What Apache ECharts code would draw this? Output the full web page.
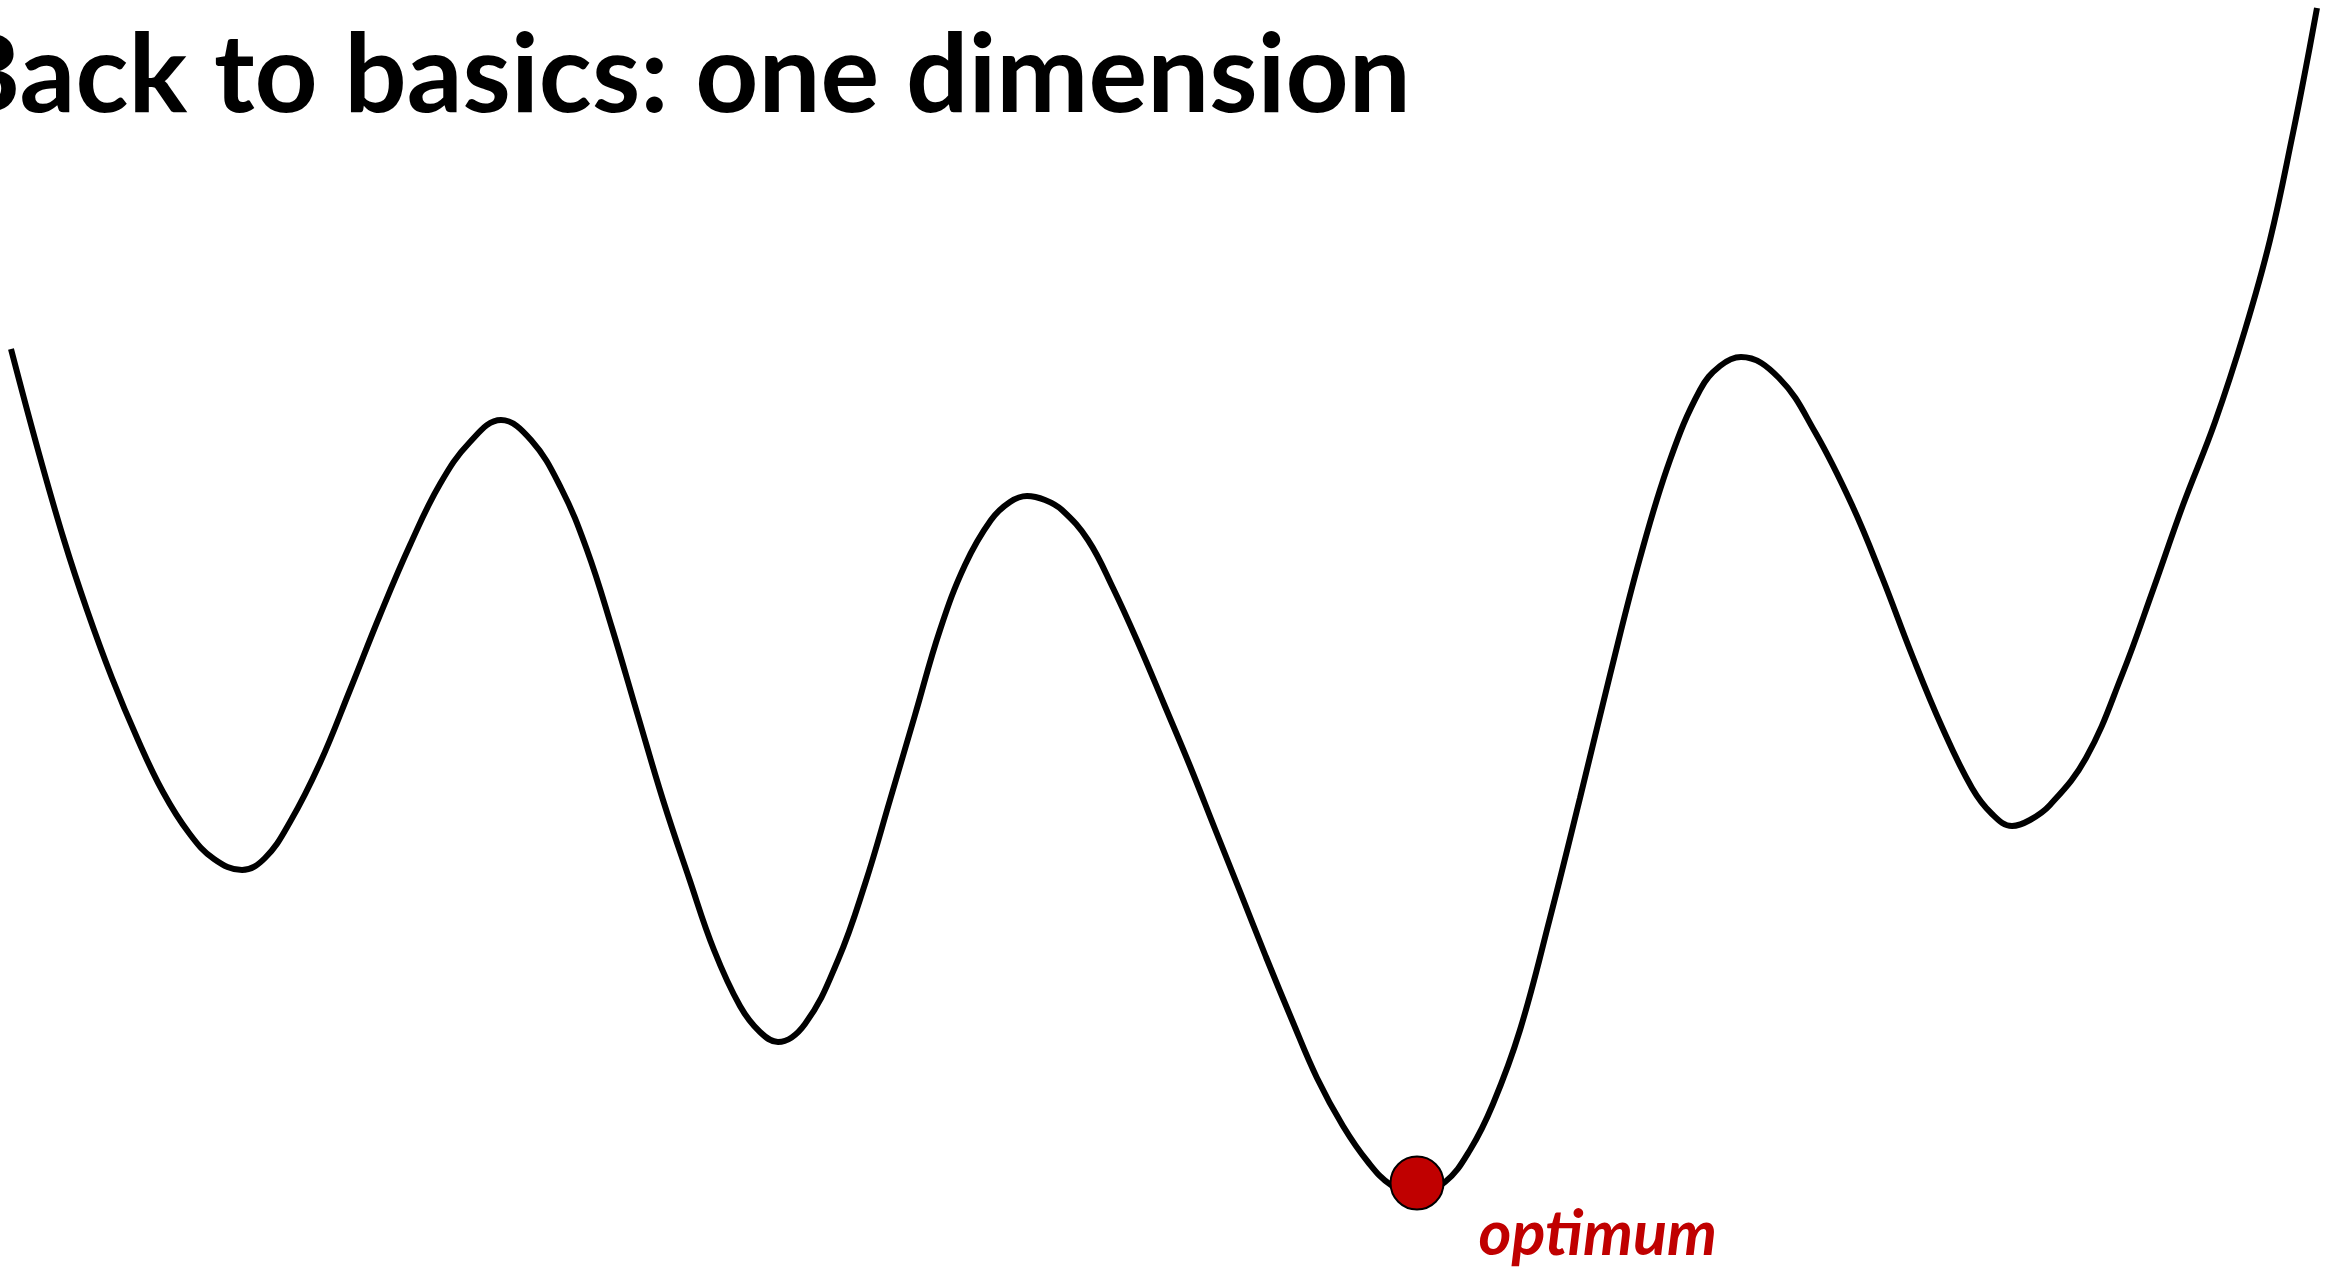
<!DOCTYPE html>
<html>
<head>
<meta charset="utf-8">
<title>Back to basics: one dimension</title>
<script src="https://cdn.jsdelivr.net/npm/echarts@6/dist/echarts.min.js"></script>
<style>
    html, body { margin: 0; padding: 0; background: #ffffff; }
    #chart { width: 2344px; height: 1267px; }
</style>
</head>
<body>
<div id="chart"></div>
<script>
// Curve, in slide pixel units (y grows downward).
const curveX = [11, 38, 64, 87, 112, 138, 163, 189, 214, 242,
    265, 290, 320, 350, 380, 410, 440, 470, 501,
    531, 561, 587, 612, 638, 663, 689, 714, 740, 760, 778,
    805, 838, 865, 890, 915, 940, 965, 991, 1010, 1027,
    1045, 1062, 1088, 1113, 1139, 1164, 1190, 1215, 1241, 1266, 1292, 1317, 1343, 1368, 1391, 1416,
    1445, 1470, 1493, 1520, 1550, 1580, 1610, 1640, 1670, 1700, 1720, 1741,
    1779, 1815, 1852, 1882, 1912, 1942, 1972, 1992, 2012,
    2030, 2050, 2086, 2122, 2153, 2183, 2215, 2245, 2270, 2293, 2306, 2317];
const curveY = [349, 450, 540, 610, 678, 740, 792, 833, 859, 870,
    858, 822, 763, 690, 615, 545, 484, 442, 420,
    440, 488, 550, 628, 716, 800, 878, 950, 1006, 1032, 1042,
    1024, 960, 884, 800, 715, 630, 565, 520, 502, 496,
    500, 510, 540, 588, 645, 704, 766, 829, 894, 957, 1020, 1078, 1126, 1162, 1185, 1194,
    1182, 1150, 1104, 1030, 918, 798, 675, 558, 460, 390, 366, 357,
    378, 432, 505, 577, 655, 727, 788, 814, 826,
    820, 805, 758, 675, 590, 505, 422, 330, 240, 133, 67, 8];

const optimumX = [1417];
const optimumY = [1183];
const optimumLabel = "optimum";
const titleText = "Back to basics: one dimension";

const chart = echarts.init(document.getElementById("chart"), null, { renderer: "canvas" });

const curveData = curveX.map(function (x, i) {
    return [x, curveY[i]];
});
const optimumData = optimumX.map(function (x, i) {
    return [x, optimumY[i]];
});

const option = {
    animation: false,
    backgroundColor: "#ffffff",
    grid: {
        left: 0,
        right: 0,
        top: 0,
        bottom: 0
    },
    xAxis: {
        type: "value",
        min: 0,
        max: 2344,
        show: false
    },
    yAxis: {
        type: "value",
        min: 0,
        max: 1267,
        inverse: true,
        show: false
    },
    graphic: [
        {
            type: "text",
            left: -52,
            top: 22,
            style: {
                text: titleText,
                font: "bold 110px Lato",
                fill: "#000000"
            }
        }
    ],
    series: [
        {
            type: "line",
            data: curveData,
            smooth: 0.4,
            showSymbol: false,
            lineStyle: {
                color: "#000000",
                width: 6,
                cap: "butt"
            },
            z: 2
        },
        {
            type: "scatter",
            data: optimumData,
            symbol: "circle",
            symbolSize: 53,
            itemStyle: {
                color: "#C00000",
                borderColor: "#000000",
                borderWidth: 2,
                opacity: 1
            },
            label: {
                show: true,
                position: "right",
                distance: 34,
                offset: [0, 52],
                formatter: optimumLabel,
                color: "#C00000",
                fontFamily: "Lato",
                fontWeight: "bold",
                fontStyle: "italic",
                fontSize: 63
            },
            z: 3
        }
    ]
};

chart.setOption(option, true);
</script>
</body>
</html>
